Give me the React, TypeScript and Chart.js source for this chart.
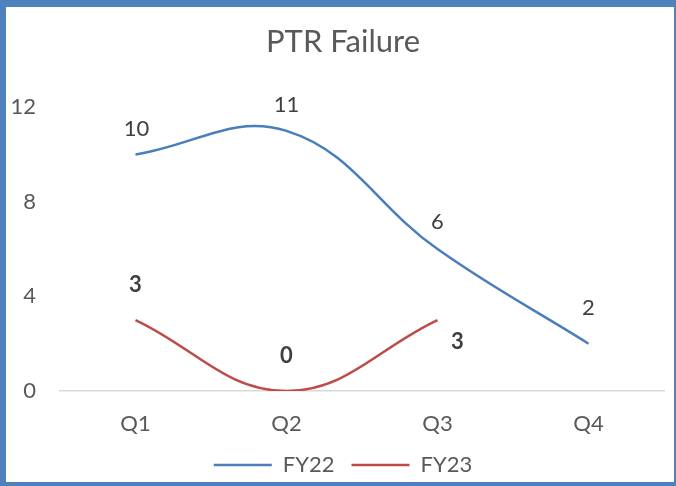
import React, { useEffect, useRef } from "react";
import { Chart, registerables } from "chart.js";

Chart.register(...registerables);

const categories = ["Q1", "Q2", "Q3", "Q4"];
const fy22Values = [10, 11, 6, 2];
const fy23Values: (number | null)[] = [3, 0, 3, null];
const yTicks = [0, 4, 8, 12];

const FONT = "Lato, 'Noto Sans', sans-serif";
const TEXT = "#595959";

const labelPlugin = {
  id: "pointLabels",
  afterDatasetsDraw(chart: any, _args: any, opts: any) {
    const ctx = chart.ctx;
    ctx.save();
    ctx.textAlign = "center";
    ctx.textBaseline = "middle";
    chart.data.datasets.forEach((ds: any, di: number) => {
      const meta = chart.getDatasetMeta(di);
      const cfg = opts.series[di];
      ctx.font = `${cfg.bold ? "bold " : ""}${opts.size}px ${FONT}`;
      ctx.fillStyle = opts.color;
      meta.data.forEach((pt: any, i: number) => {
        const v = ds.data[i];
        if (v === null || v === undefined) return;
        const off = cfg.offsets[i] || [0, -28];
        ctx.fillText(String(v), pt.x + off[0], pt.y + off[1]);
      });
    });
    ctx.restore();
  },
};

export default function App() {
  const ref = useRef<HTMLCanvasElement>(null);
  useEffect(() => {
    document.body.style.margin = "0";
    const chart = new Chart(ref.current!, {
      type: "line",
      data: {
        labels: categories,
        datasets: [
          {
            label: "FY22",
            data: fy22Values,
            borderColor: "#4A7EBB",
            backgroundColor: "#4A7EBB",
            borderWidth: 2.5,
            pointRadius: 0,
            tension: 0.4,
          },
          {
            label: "FY23",
            data: fy23Values,
            borderColor: "#BE4B48",
            backgroundColor: "#BE4B48",
            borderWidth: 2.5,
            pointRadius: 0,
            tension: 0.4,
          },
        ],
      },
      options: {
        responsive: false,
        animation: false,
        layout: { padding: { left: 10, right: 0, top: 0, bottom: 0 } },
        scales: {
          x: {
            offset: true,
            afterFit: (s: any) => {
              s.height = 46;
            },
            grid: { display: false, drawTicks: false, offset: true },
            border: { display: true, color: "#D9D9D9", width: 1.5 },
            ticks: { color: TEXT, font: { family: FONT, size: 22 }, padding: 20, maxRotation: 0 },
          },
          y: {
            min: 0,
            max: 12,
            afterFit: (s: any) => {
              s.width = 50;
            },
            afterBuildTicks: (s: any) => {
              s.ticks = yTicks.map((v) => ({ value: v }));
            },
            grid: { display: false, drawTicks: false },
            border: { display: false },
            ticks: { color: TEXT, font: { family: FONT, size: 22 }, padding: 24 },
          },
          yRight: {
            type: "linear",
            axis: "y",
            position: "right",
            min: 0,
            max: 12,
            afterFit: (s: any) => {
              s.width = 12;
            },
            grid: { display: false, drawTicks: false },
            border: { display: false },
            ticks: { display: false },
          },
        } as any,
        plugins: {
          title: {
            display: true,
            text: "PTR Failure",
            color: TEXT,
            font: { family: FONT, size: 31, weight: "normal" },
            padding: { top: 23, bottom: 47 },
          },
          legend: {
            position: "bottom",
            labels: {
              usePointStyle: true,
              pointStyle: "line",
              pointStyleWidth: 58,
              color: TEXT,
              font: { family: FONT, size: 22 },
              padding: 17,
            },
          },
          tooltip: { enabled: false },
          pointLabels: {
            size: 22,
            color: "#404040",
            series: [
              { bold: false, offsets: [[1, -26], [0, -26], [0, -27], [0, -36]] },
              { bold: true, offsets: [[0, -35], [0, -35], [20, 22]] },
            ],
          },
        } as any,
      },
      plugins: [labelPlugin],
    });
    return () => chart.destroy();
  }, []);
  return (
    <div style={{ position: "absolute", left: 0, top: 0, width: 676, height: 486, background: "#fff" }}>
      <canvas ref={ref} width={676} height={486} style={{ display: "block" }} />
      <div
        style={{
          position: "absolute",
          left: 0,
          top: 0,
          width: 676,
          height: 486,
          boxSizing: "border-box",
          borderStyle: "solid",
          borderColor: "#4F81BD",
          borderWidth: "7px 2px 4px 6px",
          pointerEvents: "none",
        }}
      />
    </div>
  );
}
